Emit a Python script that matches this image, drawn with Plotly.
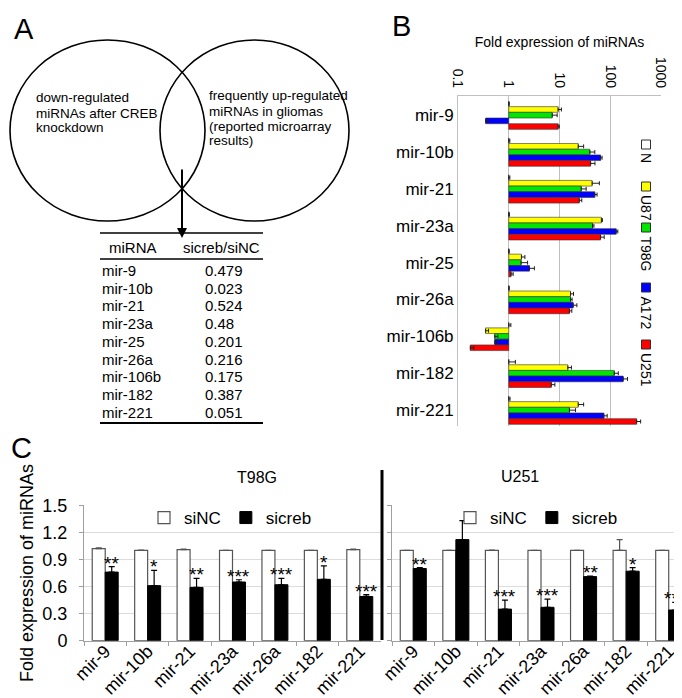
import plotly.graph_objects as go

W, H = 682, 698
FONT = "Liberation Sans, Arial, sans-serif"


def px(x):
    return x / W


def py(y):
    return 1 - y / H


# ---------------- Panel A data ----------------
venn_left_lines = ["down-regulated", "miRNAs after CREB", "knockdown"]
venn_right_lines = ["frequently up-regulated", "miRNAs in gliomas", "(reported microarray", "results)"]
table_header = ["miRNA", "sicreb/siNC"]
table_mirnas = ["mir-9", "mir-10b", "mir-21", "mir-23a", "mir-25", "mir-26a", "mir-106b", "mir-182", "mir-221"]
table_ratio = ["0.479", "0.023", "0.524", "0.48", "0.201", "0.216", "0.175", "0.387", "0.051"]

# ---------------- Panel B data ----------------
b_mirnas = ["mir-9", "mir-10b", "mir-21", "mir-23a", "mir-25", "mir-26a", "mir-106b", "mir-182", "mir-221"]
b_lines = ["N", "U87", "T98G", "A172", "U251"]
b_N = [1, 1, 1, 1, 1, 1, 1, 1, 1]
b_N_err = [0.02, 0.05, 0.05, 0.03, 0.02, 0.02, 0.1, 0.35, 0.06]
b_U87 = [9.4, 23.4, 44, 67, 1.78, 16.5, 0.35, 14.6, 23.4]
b_U87_err = [1.5, 6.5, 17, 3, 0.3, 2.4, 0.05, 2.6, 6.5]
b_T98G = [7.2, 39.6, 26.8, 44.7, 1.75, 16.5, 0.53, 120, 15.7]
b_T98G_err = [1.8, 10, 6.7, 3, 0.6, 1.2, 0.08, 24, 5]
b_A172 = [0.35, 64.5, 49.7, 131, 2.56, 18.6, 0.53, 180, 75]
b_A172_err = [0.04, 4.5, 5.3, 10, 0.64, 3.4, 0.08, 39, 12]
b_U251 = [9.4, 41, 24.5, 64.5, 1.11, 15.7, 0.175, 6.9, 331]
b_U251_err = [0.5, 9, 3, 11.5, 0.11, 1.8, 0.03, 1.2, 66]
b_ticks = [0.1, 1, 10, 100, 1000]
b_ticktext = ["0.1", "1", "10", "100", "1000"]

# ---------------- Panel C data ----------------
c_mirnas = ["mir-9", "mir-10b", "mir-21", "mir-23a", "mir-26a", "mir-182", "mir-221"]
t98g_sinc = [1.02, 1.0, 1.01, 1.0, 1.0, 1.0, 1.01]
t98g_sinc_err = [0.008, 0.005, 0.005, 0, 0, 0, 0.005]
t98g_sicreb = [0.76, 0.61, 0.59, 0.65, 0.62, 0.68, 0.49]
t98g_sicreb_err = [0.06, 0.17, 0.1, 0.025, 0.07, 0.15, 0.02]
t98g_sig = ["**", "*", "**", "***", "***", "*", "***"]
u251_sinc = [1.0, 1.0, 1.0, 1.0, 1.0, 1.0, 1.0]
u251_sinc_err = [0, 0, 0.005, 0, 0, 0.12, 0]
u251_sicreb = [0.8, 1.12, 0.35, 0.37, 0.71, 0.77, 0.34]
u251_sicreb_err = [0.01, 0.21, 0.1, 0.09, 0.005, 0.04, 0.085]
u251_sig = ["**", "", "***", "***", "**", "*", "***"]
c_ticks = [0, 0.3, 0.6, 0.9, 1.2, 1.5]
c_ticktext = ["0", "0.3", "0.6", "0.9", "1.2", "1.5"]

# ---------------- styles ----------------
b_colors = ["#ffffff", "#ffff00", "#00e600", "#0000ff", "#ff0000"]
GRID_B = "#c0c0c0"
GRID_C = "#dcdcdc"
AXIS_C = "#a0a0a0"

fig = go.Figure()

# Panel B bars
b_series = [b_N, b_U87, b_T98G, b_A172, b_U251]
b_errs = [b_N_err, b_U87_err, b_T98G_err, b_A172_err, b_U251_err]
for name, vals, errs, col in zip(b_lines, b_series, b_errs, b_colors):
    fig.add_trace(go.Bar(
        y=b_mirnas, x=[v - 1 for v in vals], base=1, orientation="h",
        marker=dict(color=col, line=dict(color="#303030", width=0.6)),
        error_x=dict(type="data", array=errs, arrayminus=[0] * len(errs), symmetric=False,
                     color="#202020", thickness=1, width=2),
        name=name, showlegend=False, xaxis="x", yaxis="y"))

# Panel C bars
BW = 0.306
for xa, ya, sinc, sinc_e, sicreb, sicreb_e, lg in [
        ("x2", "y2", t98g_sinc, t98g_sinc_err, t98g_sicreb, t98g_sicreb_err, "legend"),
        ("x3", "y3", u251_sinc, u251_sinc_err, u251_sicreb, u251_sicreb_err, "legend2")]:
    fig.add_trace(go.Bar(
        x=c_mirnas, y=sinc, width=BW, offset=-BW, name="siNC",
        marker=dict(color="white", line=dict(color="#555555", width=1.2)),
        error_y=dict(type="data", array=sinc_e, arrayminus=[0] * 7, symmetric=False,
                     color="#555555", thickness=1.2, width=3),
        xaxis=xa, yaxis=ya, legend=lg))
    fig.add_trace(go.Bar(
        x=c_mirnas, y=sicreb, width=BW, offset=0, name="sicreb",
        marker=dict(color="black", line=dict(color="black", width=1)),
        error_y=dict(type="data", array=sicreb_e, arrayminus=[0] * 7, symmetric=False,
                     color="black", thickness=1.2, width=3),
        xaxis=xa, yaxis=ya, legend=lg))

annotations = []
shapes = []

# Significance stars
for xa, ya, vals, errs, sig in [("x2", "y2", t98g_sicreb, t98g_sicreb_err, t98g_sig),
                                ("x3", "y3", u251_sicreb, u251_sicreb_err, u251_sig)]:
    for i, (v, e, s) in enumerate(zip(vals, errs, sig)):
        if s:
            annotations.append(dict(x=i + BW / 2, y=v + e, xref=xa, yref=ya, text=s,
                                    showarrow=False, yanchor="bottom", yshift=-9,
                                    font=dict(size=19)))

# Panel labels
for lab, x, y in [("A", 16, 21), ("B", 393, 18), ("C", 13, 440)]:
    annotations.append(dict(x=px(x), y=py(y), xref="paper", yref="paper", text=lab,
                            showarrow=False, font=dict(size=29), xanchor="center", yanchor="middle"))

# Venn diagram
shapes.append(dict(type="circle", xref="paper", yref="paper", x0=px(2), x1=px(197),
                   y0=py(213), y1=py(32), line=dict(color="black", width=1.6)))
shapes.append(dict(type="circle", xref="paper", yref="paper", x0=px(152), x1=px(341),
                   y0=py(213), y1=py(32), line=dict(color="black", width=1.6)))
for i, t in enumerate(venn_left_lines):
    annotations.append(dict(x=px(26), y=py(90 + 15 * i), xref="paper", yref="paper", text=t,
                            showarrow=False, xanchor="left", yanchor="middle", font=dict(size=13.5)))
for i, t in enumerate(venn_right_lines):
    annotations.append(dict(x=px(199), y=py(88 + 15 * i), xref="paper", yref="paper", text=t,
                            showarrow=False, xanchor="left", yanchor="middle", font=dict(size=13.5)))
annotations.append(dict(x=px(174), y=py(230), xref="paper", yref="paper", ax=0, ay=-70, text="",
                        showarrow=True, arrowhead=2, arrowsize=1, arrowwidth=2, arrowcolor="black"))

# Table
shapes.append(dict(type="line", xref="paper", yref="paper", x0=px(92), x1=px(255),
                   y0=py(225), y1=py(225), line=dict(color="black", width=1.5)))
shapes.append(dict(type="line", xref="paper", yref="paper", x0=px(92), x1=px(255),
                   y0=py(251), y1=py(251), line=dict(color="black", width=1.5)))
shapes.append(dict(type="line", xref="paper", yref="paper", x0=px(92), x1=px(255),
                   y0=py(415), y1=py(415), line=dict(color="black", width=2)))
annotations.append(dict(x=px(99), y=py(239), xref="paper", yref="paper", text=table_header[0],
                        showarrow=False, xanchor="left", yanchor="middle", font=dict(size=15)))
annotations.append(dict(x=px(173), y=py(239), xref="paper", yref="paper", text=table_header[1],
                        showarrow=False, xanchor="left", yanchor="middle", font=dict(size=15)))
for i, (m, r) in enumerate(zip(table_mirnas, table_ratio)):
    yy = 262.5 + 17.7 * i
    annotations.append(dict(x=px(92), y=py(yy), xref="paper", yref="paper", text=m,
                            showarrow=False, xanchor="left", yanchor="middle", font=dict(size=15)))
    annotations.append(dict(x=px(195), y=py(yy), xref="paper", yref="paper", text=r,
                            showarrow=False, xanchor="left", yanchor="middle", font=dict(size=15)))

# Panel B rotated legend
leg_tops = [132, 174, 215, 275, 332]
for name, col, top in zip(b_lines, b_colors, leg_tops):
    shapes.append(dict(type="rect", xref="paper", yref="paper", x0=px(633.5), x1=px(642.5),
                       y0=py(top + 9), y1=py(top), fillcolor=col,
                       line=dict(color="#303030", width=1)))
    annotations.append(dict(x=px(638), y=py(top + 11), xref="paper", yref="paper", text=name,
                            showarrow=False, textangle=90, xanchor="center", yanchor="top",
                            font=dict(size=14)))

# Panel C titles and divider
annotations.append(dict(x=px(227), y=py(480), xref="paper", yref="paper", text="T98G",
                        showarrow=False, font=dict(size=16)))
annotations.append(dict(x=px(533), y=py(479), xref="paper", yref="paper", text="U251",
                        showarrow=False, font=dict(size=16)))
shapes.append(dict(type="line", xref="paper", yref="paper", x0=px(374), x1=px(374),
                   y0=py(632), y1=py(462), line=dict(color="black", width=3)))

c_x_common = dict(type="category", categoryorder="array", categoryarray=c_mirnas,
                  tickangle=-45, tickfont=dict(size=18), ticks="outside", tickson="boundaries",
                  ticklen=4, tickcolor=AXIS_C, showline=True, linecolor=AXIS_C, showgrid=False,
                  automargin=False, zeroline=False, ticklabelstandoff=-8)
c_y_common = dict(range=[0, 1.5], tickvals=c_ticks, ticktext=c_ticktext, showgrid=True,
                  gridcolor=GRID_C, showline=True, linecolor=AXIS_C, ticks="outside",
                  ticklen=4, tickcolor=AXIS_C, zeroline=False, tickfont=dict(size=18),
                  automargin=False)

fig.update_layout(
    template="none",
    width=W, height=H, margin=dict(l=0, r=0, t=0, b=0, autoexpand=False),
    paper_bgcolor="white", plot_bgcolor="white",
    font=dict(family=FONT, color="black"),
    barmode="group", bargap=0.23, bargroupgap=0,
    xaxis=dict(type="log", range=[-1, 3], domain=[px(450), px(653)], anchor="y", side="top",
               tickvals=b_ticks, ticktext=b_ticktext, tickangle=90, tickfont=dict(size=14),
               showgrid=True, gridcolor=GRID_B, showline=True, linecolor=GRID_B, zeroline=False,
               ticks="", ticklabelstandoff=2, automargin=False,
               title=dict(text="Fold expression of miRNAs", font=dict(size=14), standoff=6)),
    yaxis=dict(type="category", categoryorder="array", categoryarray=b_mirnas,
               range=[8.43, -0.52], domain=[py(418), py(88)], anchor="x", automargin=False,
               showline=True, linecolor=GRID_B, tickfont=dict(size=17), ticks="", showgrid=False,
               zeroline=False),
    xaxis2=dict(domain=[px(76), px(373)], anchor="y2", **c_x_common),
    yaxis2=dict(domain=[py(632.7), py(497.3)], anchor="x2", ticklabelstandoff=8,
                title=dict(text="Fold expression of miRNAs", font=dict(size=18), standoff=4),
                **c_y_common),
    xaxis3=dict(domain=[px(384), 1.0], anchor="y3", **c_x_common),
    yaxis3=dict(domain=[py(632.7), py(497.3)], anchor="x3", showticklabels=False, **c_y_common),
    legend=dict(x=px(136), y=py(492), xanchor="left", yanchor="top", orientation="h",
                font=dict(size=17), bgcolor="rgba(0,0,0,0)", itemwidth=30, traceorder="normal"),
    legend2=dict(x=px(442), y=py(492), xanchor="left", yanchor="top", orientation="h",
                 font=dict(size=17), bgcolor="rgba(0,0,0,0)", itemwidth=30, traceorder="normal"),
    annotations=annotations, shapes=shapes,
)

fig.write_html("out.html")
